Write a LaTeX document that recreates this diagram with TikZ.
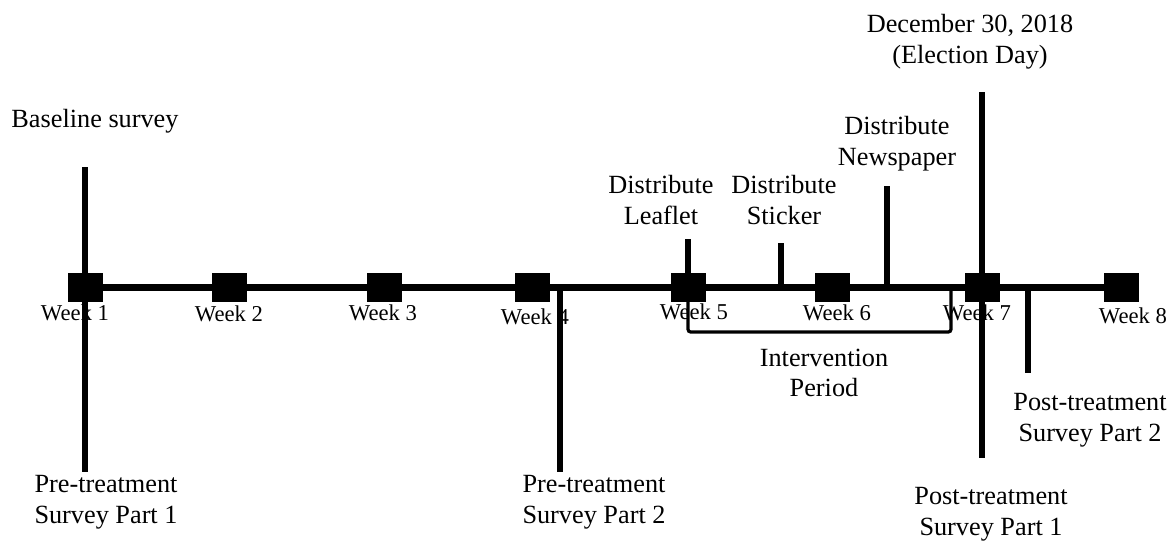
\documentclass[tikz,border=0pt]{standalone}
\usepackage{fontspec}
\setmainfont{Liberation Serif}
\begin{document}
\begin{tikzpicture}[x=0.75pt,y=-0.75pt,
 wk/.style={fill=black,draw=none,minimum width=26.25pt,minimum height=21.75pt,inner sep=0pt},
 wlab/.style={font=\fontsize{17}{20}\selectfont,inner sep=0pt},
 lab/.style={font=\fontsize{19.7}{23}\selectfont,align=center,inner sep=0pt},
 axis/.style={line width=5.25pt},
 tick/.style={line width=4.2pt},
 brk/.style={line width=2.4pt,rounded corners=2pt}]
\useasboundingbox (0,0) rectangle (1172,543);
% week squares
\node[wk] (w1) at (85,287) {};
\node[wk] (w2) at (229.5,287) {};
\node[wk] (w3) at (384,287) {};
\node[wk] (w4) at (532.5,287) {};
\node[wk] (w5) at (688,287) {};
\node[wk] (w6) at (832,287) {};
\node[wk] (w7) at (982,287) {};
\node[wk] (w8) at (1121,287) {};
\draw[axis] (w1.center) -- (w8.center);
% week labels
\node[wlab] (l1) at (75,313) {Week 1};
\node[wlab] (l2) at (229,314) {Week 2};
\node[wlab] (l3) at (383,313) {Week 3};
\node[wlab] (l4) at (535,317) {Week 4};
\node[wlab] (l5) at (694,312) {Week 5};
\node[wlab] (l6) at (837,313) {Week 6};
\node[wlab] (l7) at (977,313) {Week 7};
\node[wlab] (l8) at (1133,316) {Week 8};
% event labels
\node[lab] (base) at (95,121) {Baseline survey};
\node[lab] (leaf) at (661,200) {Distribute\\Leaflet};
\node[lab] (stick) at (784,200) {Distribute\\Sticker};
\node[lab] (news) at (897,144) {Distribute\\Newspaper};
\node[lab] (elec) at (970,42) {December 30, 2018\\(Election Day)};
\node[lab] (interv) at (824,373) {Intervention\\Period};
\node[lab] (pre1) at (106,502) {Pre-treatment\\Survey Part 1};
\node[lab] (pre2) at (594,502) {Pre-treatment\\Survey Part 2};
\node[lab] (post1) at (991,514) {Post-treatment\\Survey Part 1};
\node[lab] (post2) at (1090,420) {Post-treatment\\Survey Part 2};
% free ends of the ticks
\coordinate (b1t) at (85,167);
\coordinate (b1b) at (85,472);
\coordinate (p2a) at (560,287);
\coordinate (p2b) at (560,472);
\coordinate (lft) at (688,239);
\coordinate (stt) at (781,243);
\coordinate (stb) at (781,287);
\coordinate (nwt) at (887,186);
\coordinate (nwb) at (887,287);
\coordinate (elt) at (982,92);
\coordinate (elb) at (982,458);
\coordinate (q2a) at (1028,287);
\coordinate (q2b) at (1028,373);
\coordinate (bl) at (688,332);
\coordinate (br) at (951,332);
\coordinate (bt) at (951,287);
% ticks
\draw[tick] (b1t) -- (w1.center) -- (b1b);
\draw[tick] (p2a) -- (p2b);
\draw[tick] (lft) -- (w5.center);
\draw[tick] (stt) -- (stb);
\draw[tick] (nwt) -- (nwb);
\draw[tick] (elt) -- (w7.center) -- (elb);
\draw[tick] (q2a) -- (q2b);
% intervention bracket
\draw[brk] (w5.center) -- (bl) -- (br) -- (bt);
\end{tikzpicture}
\end{document}
